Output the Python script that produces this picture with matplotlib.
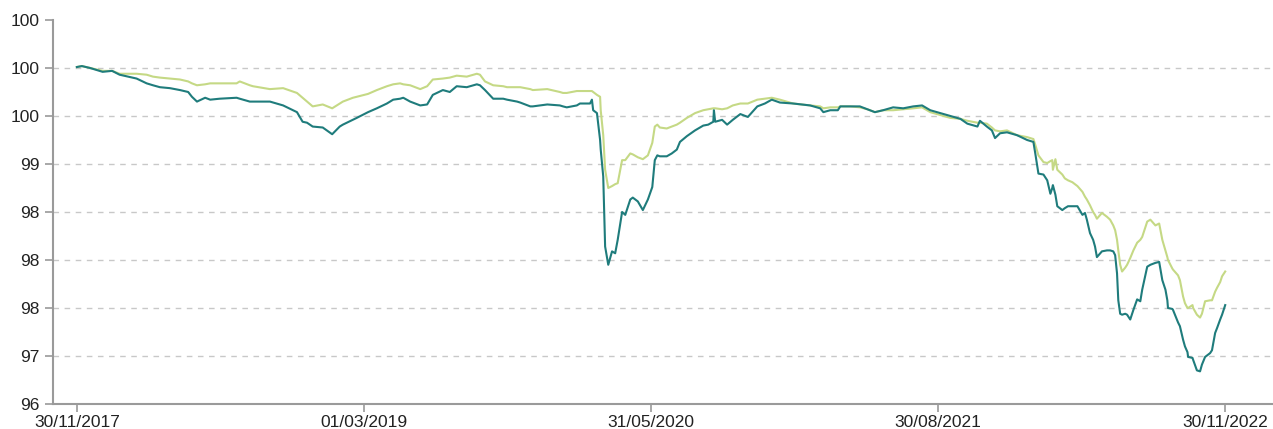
import pandas as pd
import numpy as np
import matplotlib
matplotlib.use("Agg")
import matplotlib.pyplot as plt
from matplotlib.ticker import FuncFormatter, FixedLocator

plt.rcParams['font.family'] = ['Liberation Sans', 'DejaVu Sans']

dates = [
    "2017-11-30", "2017-12-08", "2017-12-21", "2018-01-10", "2018-01-25", "2018-02-06",
    "2018-03-05", "2018-03-21", "2018-03-31", "2018-04-11", "2018-04-27", "2018-05-13",
    "2018-05-26", "2018-06-01", "2018-06-09", "2018-06-22", "2018-06-30", "2018-07-15",
    "2018-08-11", "2018-08-16", "2018-09-01", "2018-09-06", "2018-10-03", "2018-10-24",
    "2018-11-15", "2018-11-24", "2018-12-01", "2018-12-10", "2018-12-26", "2019-01-10",
    "2019-01-22", "2019-01-27", "2019-02-12", "2019-02-18", "2019-03-08", "2019-03-22",
    "2019-04-07", "2019-04-17", "2019-04-28", "2019-05-03", "2019-05-14", "2019-05-30",
    "2019-06-10", "2019-06-19", "2019-07-05", "2019-07-16", "2019-07-27", "2019-08-12",
    "2019-08-28", "2019-09-02", "2019-09-10", "2019-09-23", "2019-10-09", "2019-10-15",
    "2019-10-31", "2019-11-05", "2019-11-21", "2019-11-25", "2019-12-18", "2020-01-07",
    "2020-01-12", "2020-01-18", "2020-02-03", "2020-02-08", "2020-02-24", "2020-02-27",
    "2020-02-29", "2020-03-06", "2020-03-11", "2020-03-12", "2020-03-16", "2020-03-19",
    "2020-03-24", "2020-03-30", "2020-04-04", "2020-04-08", "2020-04-15", "2020-04-20",
    "2020-04-28", "2020-05-02", "2020-05-10", "2020-05-18", "2020-05-26", "2020-06-02",
    "2020-06-06", "2020-06-10", "2020-06-14", "2020-06-25", "2020-07-03", "2020-07-11",
    "2020-07-16", "2020-07-27", "2020-08-09", "2020-08-22", "2020-08-30", "2020-09-07",
    "2020-09-08", "2020-09-10", "2020-09-21", "2020-09-29", "2020-10-08", "2020-10-20",
    "2020-11-01", "2020-11-16", "2020-11-28", "2020-12-09", "2020-12-22", "2021-01-12",
    "2021-02-08", "2021-02-24", "2021-03-01", "2021-03-12", "2021-03-24", "2021-03-28",
    "2021-04-13", "2021-04-28", "2021-05-10", "2021-05-22", "2021-06-04", "2021-06-20",
    "2021-07-06", "2021-07-22", "2021-08-05", "2021-08-18", "2021-09-03", "2021-09-19",
    "2021-10-05", "2021-10-16", "2021-11-01", "2021-11-05", "2021-11-16", "2021-11-24",
    "2021-11-29", "2021-12-07", "2021-12-18", "2022-01-03", "2022-01-19", "2022-01-29",
    "2022-02-01", "2022-02-06", "2022-02-14", "2022-02-20", "2022-02-25", "2022-02-28",
    "2022-03-01", "2022-03-05", "2022-03-08", "2022-03-16", "2022-03-20", "2022-03-25",
    "2022-04-01", "2022-04-09", "2022-04-17", "2022-04-21", "2022-04-24", "2022-04-29",
    "2022-05-04", "2022-05-07", "2022-05-10", "2022-05-18", "2022-05-26", "2022-05-31",
    "2022-06-05", "2022-06-08", "2022-06-11", "2022-06-13", "2022-06-16", "2022-06-19",
    "2022-06-24", "2022-06-27", "2022-07-02", "2022-07-07", "2022-07-13", "2022-07-18",
    "2022-07-21", "2022-07-29", "2022-08-03", "2022-08-11", "2022-08-17", "2022-08-22",
    "2022-08-27", "2022-08-30", "2022-08-31", "2022-09-07", "2022-09-08", "2022-09-16",
    "2022-09-19", "2022-09-24", "2022-09-27", "2022-10-01", "2022-10-02", "2022-10-09",
    "2022-10-10", "2022-10-16", "2022-10-21", "2022-10-24", "2022-10-29", "2022-11-06",
    "2022-11-09", "2022-11-14", "2022-11-17", "2022-11-22", "2022-11-25", "2022-11-30",
]

teal = [
    100.01, 100.02, 100.00, 99.96, 99.97, 99.93,
    99.89, 99.84, 99.82, 99.80, 99.79, 99.77,
    99.75, 99.70, 99.65, 99.69, 99.67, 99.68,
    99.69, 99.68, 99.65, 99.65, 99.65, 99.61,
    99.54, 99.44, 99.43, 99.39, 99.38, 99.31,
    99.39, 99.41, 99.46, 99.48, 99.54, 99.58,
    99.63, 99.67, 99.68, 99.69, 99.65, 99.61,
    99.62, 99.72, 99.77, 99.75, 99.81, 99.80,
    99.83, 99.82, 99.77, 99.68, 99.68, 99.67,
    99.65, 99.64, 99.60, 99.60, 99.62, 99.61,
    99.60, 99.59, 99.61, 99.63, 99.63, 99.67,
    99.56, 99.53, 99.25, 99.15, 98.87, 98.14,
    97.95, 98.09, 98.07, 98.21, 98.50, 98.47,
    98.63, 98.65, 98.61, 98.52, 98.63, 98.76,
    99.04, 99.09, 99.08, 99.08, 99.11, 99.15,
    99.23, 99.29, 99.35, 99.40, 99.41, 99.44,
    99.56, 99.44, 99.46, 99.41, 99.46, 99.52,
    99.49, 99.60, 99.63, 99.67, 99.64, 99.63,
    99.61, 99.58, 99.54, 99.56, 99.56, 99.60,
    99.60, 99.60, 99.57, 99.54, 99.56, 99.59,
    99.58, 99.60, 99.61, 99.56, 99.53, 99.50,
    99.47, 99.42, 99.39, 99.45, 99.39, 99.35,
    99.27, 99.32, 99.33, 99.30, 99.25, 99.23,
    99.11, 98.90, 98.89, 98.83, 98.69, 98.75,
    98.78, 98.68, 98.56, 98.52, 98.54, 98.56,
    98.56, 98.56, 98.47, 98.49, 98.42, 98.28,
    98.21, 98.14, 98.03, 98.09, 98.10, 98.10,
    98.09, 98.05, 97.86, 97.58, 97.44, 97.43,
    97.44, 97.43, 97.38, 97.48, 97.59, 97.57,
    97.69, 97.93, 97.95, 97.97, 97.98, 97.79,
    97.69, 97.58, 97.50, 97.49, 97.48, 97.35,
    97.31, 97.17, 97.10, 97.04, 96.99, 96.98,
    96.96, 96.85, 96.84, 96.91, 96.99, 97.03,
    97.06, 97.24, 97.29, 97.38, 97.43, 97.53,
]

green = [
    100.01, 100.02, 100.00, 99.97, 99.97, 99.94,
    99.94, 99.93, 99.91, 99.90, 99.89, 99.88,
    99.86, 99.84, 99.82, 99.83, 99.84, 99.84,
    99.84, 99.86, 99.82, 99.81, 99.78, 99.79,
    99.74, 99.69, 99.65, 99.60, 99.62, 99.58,
    99.63, 99.65, 99.69, 99.70, 99.73, 99.77,
    99.81, 99.83, 99.84, 99.83, 99.82, 99.78,
    99.81, 99.88, 99.89, 99.90, 99.92, 99.91,
    99.94, 99.93, 99.86, 99.82, 99.81, 99.80,
    99.80, 99.80, 99.78, 99.77, 99.78, 99.75,
    99.74, 99.74, 99.76, 99.76, 99.76, 99.76,
    99.75, 99.72, 99.70, 99.56, 99.30, 98.94,
    98.75, 98.77, 98.79, 98.80, 99.04, 99.04,
    99.11, 99.10, 99.07, 99.05, 99.09, 99.22,
    99.39, 99.41, 99.38, 99.37, 99.39, 99.41,
    99.43, 99.48, 99.53, 99.56, 99.57, 99.58,
    99.58, 99.58, 99.57, 99.58, 99.61, 99.63,
    99.63, 99.67, 99.68, 99.69, 99.67, 99.63,
    99.61, 99.60, 99.58, 99.59, 99.59, 99.60,
    99.60, 99.59, 99.57, 99.54, 99.56, 99.56,
    99.57, 99.58, 99.59, 99.54, 99.51, 99.48,
    99.47, 99.45, 99.43, 99.43, 99.42, 99.38,
    99.35, 99.34, 99.35, 99.30, 99.28, 99.26,
    99.20, 99.09, 99.02, 99.01, 99.03, 99.04,
    98.94, 99.05, 98.94, 98.89, 98.85, 98.83,
    98.81, 98.77, 98.71, 98.66, 98.63, 98.57,
    98.50, 98.47, 98.43, 98.49, 98.45, 98.42,
    98.36, 98.31, 98.21, 98.10, 97.95, 97.88,
    97.92, 97.95, 98.02, 98.10, 98.18, 98.21,
    98.24, 98.40, 98.42, 98.36, 98.38, 98.21,
    98.10, 98.03, 98.00, 97.91, 97.90, 97.84,
    97.79, 97.62, 97.55, 97.50, 97.50, 97.53,
    97.50, 97.43, 97.40, 97.44, 97.57, 97.58,
    97.58, 97.67, 97.71, 97.77, 97.83, 97.88,
]

y_ticks = [96.5, 97.0, 97.5, 98.0, 98.5, 99.0, 99.5, 100.0, 100.5]
x_ticks = ["2017-11-30", "2019-03-01", "2020-05-31", "2021-08-30", "2022-11-30"]

df = pd.DataFrame({"date": pd.to_datetime(dates), "teal": teal, "green": green})

fig = plt.figure(figsize=(12.73, 4.29), dpi=100)
ax = fig.add_axes([0.0416, 0.0583, 0.9584, 0.8951])

ax.plot(df["date"], df["green"], color="#c5d985", lw=1.5)
ax.plot(df["date"], df["teal"], color="#1f7c7c", lw=1.5)

ax.set_ylim(96.5, 100.5)
ax.set_xlim(pd.Timestamp("2017-10-23"), pd.Timestamp("2023-02-14"))

# dashed grid lines on the inner ticks only
for t in y_ticks[1:-1]:
    ax.axhline(t, color="#c8c8c8", lw=1, ls=(0, (4, 4)), zorder=0)

ax.yaxis.set_major_locator(FixedLocator(y_ticks))
ax.yaxis.set_major_formatter(FuncFormatter(lambda v, p: f"{v:.0f}"))
xt = pd.to_datetime(x_ticks)
ax.set_xticks(xt)
ax.set_xticklabels([d.strftime("%d/%m/%Y") for d in xt])

for s in ["top", "right"]:
    ax.spines[s].set_visible(False)
for s in ["left", "bottom"]:
    ax.spines[s].set_color("#9a9a9a")
    ax.spines[s].set_linewidth(1.5)

ax.tick_params(colors="#9a9a9a", width=1.2, length=6, labelcolor="#222222", labelsize=12.5)
ax.tick_params(axis="x", pad=2)

fig.savefig("out.png", dpi=100)
